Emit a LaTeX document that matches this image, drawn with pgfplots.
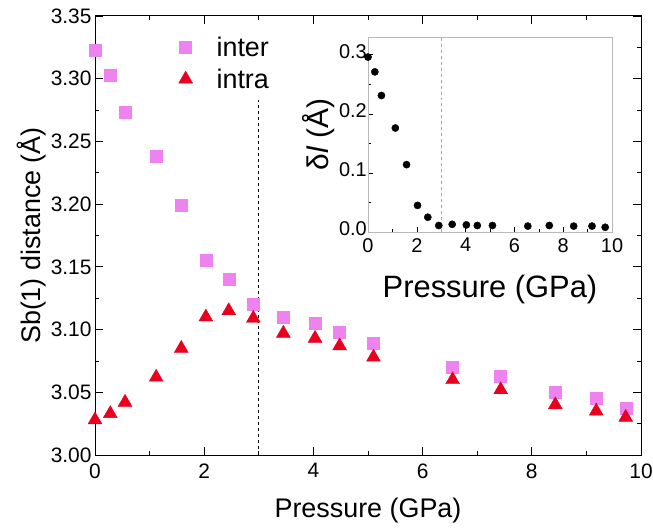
\documentclass[border=0pt]{standalone}
\usepackage{pgfplots}
\pgfplotsset{compat=1.18}
\usepackage{fontspec}
\setmainfont{Liberation Sans}
\definecolor{cinter}{RGB}{238,130,238}
\definecolor{cintra}{RGB}{232,0,30}
\begin{document}
\begin{tikzpicture}
\path[use as bounding box] (-95bp,-74bp) rectangle (558bp,455bp);
\begin{axis}[
  at={(0,0)}, anchor=south west,
  scale only axis, width=546bp, height=439bp,
  xmin=0, xmax=10, ymin=3.0, ymax=3.35,
  xtick={0,2,...,10}, minor xtick={1,3,...,9},
  ytick={3.00,3.05,...,3.35}, minor ytick={3.025,3.075,...,3.325},
  tick align=inside, major tick length=8bp, minor tick length=4bp,
  every tick/.style={black, line width=0.8pt},
  axis line style={line width=1pt},
  /pgf/number format/assume math mode=true,
  yticklabel style={/pgf/number format/fixed,/pgf/number format/fixed zerofill,/pgf/number format/precision=2},
  xticklabel style={/pgf/number format/fixed, yshift=-5bp},
  tick label style={font=\fontsize{21}{23}\selectfont},
  xlabel={Pressure (GPa)}, ylabel={Sb(1) distance (Å)},
  label style={font=\fontsize{27}{29}\selectfont},
  xlabel style={yshift=-13bp},
  ylabel style={yshift=-2bp},
  legend style={at={(0.153,0.958)}, anchor=north west, draw=none, fill=none,
     inner sep=0pt,
     font=\fontsize{27}{29}\selectfont, row sep=7bp,
     /tikz/every odd column/.append style={column sep=22bp}},
  legend cell align=left,
  clip=false,
]
\addplot[only marks, mark=square*, mark size=6bp, color=cinter] coordinates {
(0.0,3.323) (0.28,3.303) (0.55,3.273) (1.12,3.238) (1.58,3.199) (2.03,3.155)
(2.45,3.140) (2.90,3.120) (3.45,3.110) (4.03,3.105) (4.48,3.098) (5.10,3.089)
(6.55,3.070) (7.43,3.063) (8.43,3.050) (9.18,3.045) (9.72,3.037)};
\addlegendentry{inter}
\addplot[only marks, mark=triangle*, mark size=8bp, color=cintra] coordinates {
(0.0,3.028) (0.28,3.033) (0.55,3.042) (1.12,3.062) (1.58,3.085) (2.03,3.110)
(2.45,3.115) (2.90,3.109) (3.45,3.097) (4.03,3.093) (4.48,3.087) (5.10,3.078)
(6.55,3.060) (7.43,3.052) (8.43,3.040) (9.18,3.035) (9.72,3.030)};
\addlegendentry{intra}
\addplot[black, dashed, line width=0.7pt, forget plot] coordinates {(3,3.0) (3,3.283)};
\end{axis}
\begin{axis}[
  at={(273bp,223bp)}, anchor=south west,
  scale only axis, width=244bp, height=195bp,
  xmin=0, xmax=10, ymin=0, ymax=0.33,
  xtick={0,2,...,10}, minor xtick={1,3,...,9},
  ytick={0,0.1,0.2,0.3}, minor ytick={0.05,0.15,0.25},
  tick align=inside, major tick length=5bp, minor tick length=3bp,
  every tick/.style={black, line width=0.6pt},
  axis line style={gray!55, line width=0.8pt},
  xtick pos=bottom, ytick pos=left,
  /pgf/number format/assume math mode=true,
  yticklabel style={/pgf/number format/fixed,/pgf/number format/fixed zerofill,/pgf/number format/precision=1, inner sep=1bp, xshift=0bp, yshift=3bp},
  tick label style={font=\fontsize{20}{22}\selectfont},
  xticklabel style={inner sep=1bp, yshift=-5bp},
  xlabel={Pressure (GPa)}, ylabel={δ\textit{l} (Å)},
  xlabel style={font=\fontsize{31}{33}\selectfont, yshift=-18bp},
  ylabel style={font=\fontsize{30}{32}\selectfont, yshift=0bp},
  clip=false,
]
\addplot[only marks, mark=*, mark size=3.6bp, black] coordinates {
(0.0,0.296) (0.28,0.271) (0.55,0.231) (1.12,0.176) (1.58,0.114) (2.03,0.045)
(2.45,0.025) (2.90,0.011) (3.45,0.013) (4.03,0.012) (4.48,0.011) (5.10,0.011)
(6.55,0.010) (7.43,0.011) (8.43,0.010) (9.18,0.010) (9.72,0.008)};
\addplot[gray!70, dashed, line width=0.8pt] coordinates {(3,0) (3,0.33)};
\end{axis}
\end{tikzpicture}
\end{document}
